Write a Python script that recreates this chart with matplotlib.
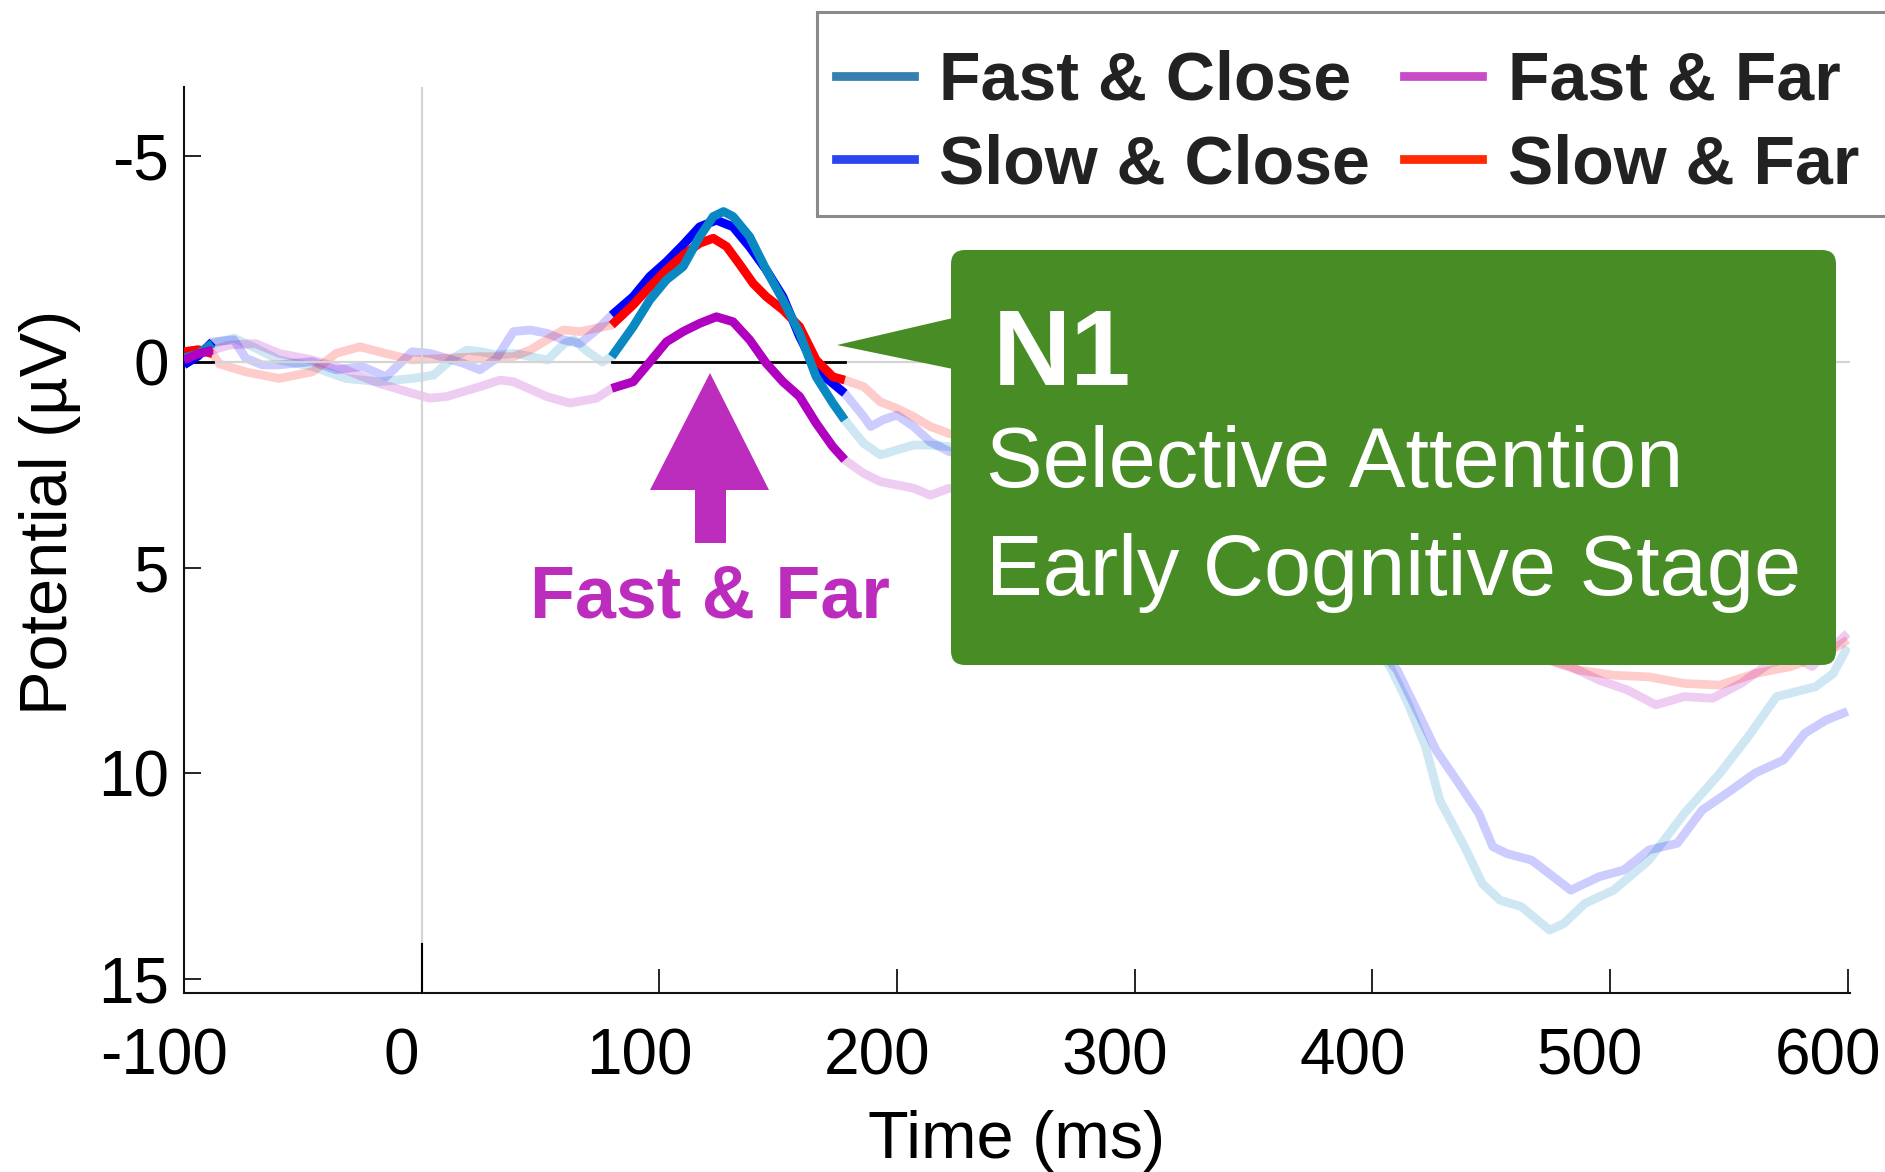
import numpy as np
import matplotlib
matplotlib.use("Agg")
import matplotlib.pyplot as plt
from matplotlib.lines import Line2D
from matplotlib.patches import FancyBboxPatch, Polygon, Rectangle
from matplotlib.transforms import IdentityTransform, ScaledTranslation

W, H, DPI = 1885, 1172, 100
plt.rcParams['font.family'] = ['Liberation Sans', 'DejaVu Sans']
plt.rcParams['axes.unicode_minus'] = False

# ---------------- data ----------------
labels = ["Fast & Close", "Slow & Close", "Fast & Far", "Slow & Far"]

fc_t = [-100, -94, -88, -79, -71, -60, -46, -32, -18, -4, 5, 13, 19, 25, 32, 39, 46, 53, 60, 64, 69, 76,
        80, 89, 96, 103, 110, 117, 122.7, 127, 131, 138, 145, 152, 159, 166, 173, 178,
        186, 193, 200, 207, 214, 222, 240, 260, 280, 300, 330, 360, 380, 400, 407.5, 415, 422.4, 428.4,
        438.8, 446.3, 453.7, 462.7, 474.6, 480.6, 489.5, 501.5, 516.4, 531.3, 546.2, 558.1, 570.1,
        586.5, 593.9, 600]
fc_v = [-0.1, -0.2, -0.45, -0.58, -0.37, -0.05, 0.11, 0.4, 0.48, 0.4, 0.32, -0.09, -0.29, -0.25, -0.17, -0.21,
        -0.13, -0.05, -0.45, -0.54, -0.29, 0.0,
        -0.13, -0.86, -1.51, -2.0, -2.32, -3.05, -3.54, -3.66, -3.54, -3.05, -2.24, -1.51, -0.7, 0.36, 1.0, 1.41,
        1.98, 2.26, 2.14, 2.02, 2.02, 2.06, 2.3, 2.1, 2.0, 2.6, 3.6, 4.8, 5.8, 6.9, 7.41, 8.3, 9.36, 10.66,
        11.79, 12.69, 13.09, 13.25, 13.82, 13.66, 13.17, 12.85, 12.12, 10.98, 10.01, 9.12, 8.14,
        7.9, 7.58, 6.93]

sc_t = [-100, -94, -88, -79, -74, -67, -60, -46, -36, -25, -15, -4, 3.5, 10.5, 17.5, 24.5, 31.5, 38.6, 45.6,
        52.6, 59.6, 66.6, 73.6,
        80, 89, 96, 103, 110, 117, 124, 131, 138, 145, 152, 159, 166, 173, 178,
        186, 189, 194, 200, 207, 214, 222, 240, 260, 280, 300, 330, 360, 380, 400, 410.4, 419.4, 426.8,
        437.3, 444.8, 450.7, 456.7, 467.1, 483.5, 495.5, 505.8, 516.4, 528.3, 538.8, 549.2, 561.1,
        573.1, 582, 591, 600]
sc_v = [0.07, -0.15, -0.49, -0.54, -0.09, 0.07, 0.07, -0.01, 0.19, 0.11, 0.36, -0.25, -0.21, -0.09, 0.03,
        0.19, -0.09, -0.74, -0.78, -0.7, -0.54, -0.45, -0.78,
        -1.14, -1.59, -2.08, -2.44, -2.85, -3.29, -3.45, -3.29, -2.8, -2.24, -1.59, -0.62, 0.19, 0.52, 0.76,
        1.33, 1.57, 1.41, 1.29, 1.57, 1.94, 2.18, 2.4, 2.2, 2.1, 2.6, 3.5, 4.5, 5.5, 6.8, 7.49, 8.55, 9.44,
        10.33, 10.98, 11.79, 11.96, 12.12, 12.85, 12.52, 12.36, 11.87, 11.71, 10.9, 10.49, 10.0,
        9.68, 9.03, 8.71, 8.5]

ff_t = [-100, -94, -88, -81, -70, -60, -46, -32, -18, -4, 3.5, 10.5, 24.5, 33, 38.6, 52.6, 62.4, 73.6,
        80, 89, 96, 103, 110, 117, 124, 131, 138, 145, 152, 159, 166, 173, 178,
        186, 193, 200, 207, 214, 222, 250, 280, 300, 350, 400, 450, 483.5, 495.5, 507.4, 519.3, 531.3,
        543.2, 555.1, 567.1, 577.5, 585, 593.9, 600]
ff_v = [-0.05, -0.2, -0.29, -0.41, -0.45, -0.21, -0.05, 0.19, 0.52, 0.76, 0.88, 0.84, 0.6, 0.44, 0.48, 0.84,
        1.0, 0.88,
        0.64, 0.48, 0.0, -0.49, -0.74, -0.94, -1.1, -0.98, -0.54, 0.03, 0.48, 0.84, 1.49, 2.06, 2.38,
        2.71, 2.91, 2.99, 3.07, 3.24, 3.07, 3.3, 3.6, 4.0, 5.0, 6.0, 6.8, 7.41, 7.74, 7.98, 8.34, 8.14,
        8.18, 7.82, 7.33, 7.17, 7.41, 6.93, 6.6]

sf_t = [-100, -94, -88, -85, -74, -60, -46, -36, -26, -18, -4, 10.5, 24.5, 38.6, 45.6, 59.6, 66.6,
        80, 89, 96, 103, 110, 117, 122.7, 128.3, 134, 139.5, 145, 152, 159, 166, 173, 178,
        186, 193, 200, 207, 214, 222, 250, 280, 300, 350, 400, 450, 486.5, 501.5, 516.4, 531.3, 546.2,
        561.1, 576, 591, 600]
sf_v = [-0.25, -0.3, -0.2, 0.05, 0.24, 0.4, 0.24, -0.21, -0.37, -0.25, -0.05, -0.09, -0.13, -0.13, -0.29,
        -0.78, -0.74,
        -0.9, -1.39, -1.83, -2.24, -2.6, -2.89, -3.01, -2.81, -2.36, -1.91, -1.59, -1.27, -0.86, -0.05, 0.36, 0.44,
        0.6, 0.97, 1.13, 1.33, 1.57, 1.74, 2.1, 2.6, 3.2, 4.5, 5.6, 6.8, 7.49, 7.62, 7.66, 7.82, 7.86,
        7.58, 7.41, 7.09, 6.76]

windows = [(-100, -88), (80, 178)]
xticks = [-100, 0, 100, 200, 300, 400, 500, 600]
xticklabels = ["-100", "0", "100", "200", "300", "400", "500", "600"]
yticks = [-5, 0, 5, 10, 15]
yticklabels = ["-5", "0", "5", "10", "15"]

line_colors = ["#0a88c2", "#0000ff", "#b000c0", "#ff0000"]
legend_colors = ["#3580b0", "#2b46f0", "#c84bc8", "#ff2a00"]
draw_order = [1, 3, 0, 2]

series = [(fc_t, fc_v), (sc_t, sc_v), (ff_t, ff_v), (sf_t, sf_v)]

# ---------------- figure ----------------
fig = plt.figure(figsize=(W / DPI, H / DPI), dpi=DPI)
ax_l, ax_r, ax_t, ax_b = 184, 1850, 87, 993
ax = fig.add_axes([ax_l / W, 1 - ax_b / H, (ax_r - ax_l) / W, (ax_b - ax_t) / H])

ax.axhline(0, color="#d4d4d4", lw=1.6, zorder=3)
ax.axvline(0, color="#d4d4d4", lw=1.6, zorder=3)

LW = 6.3
for i, (t, v) in enumerate(series):
    ax.plot(t, v, color=line_colors[i], alpha=0.2, lw=LW, solid_capstyle="butt", zorder=2)

for i in draw_order:
    t = np.array(series[i][0], dtype=float)
    v = np.array(series[i][1], dtype=float)
    for a, b in windows:
        m = (t >= a) & (t <= b)
        ax.plot(t[m], v[m], color=line_colors[i], lw=LW, solid_capstyle="butt", zorder=5)

for a, b in windows:
    ax.plot([a, b], [0, 0], color="black", lw=2, zorder=4)

ax.set_xlim(-100, 601)
ax.set_ylim(15.35, -6.69)
for s in ["top", "right"]:
    ax.spines[s].set_visible(False)
for s in ["left", "bottom"]:
    ax.spines[s].set_linewidth(1.5)
    ax.spines[s].set_color("#111111")

ax.axvline(0, ymin=0, ymax=49 / 906, color="black", lw=1.5, zorder=4)

ax.set_xticks(xticks)
ax.set_xticklabels(xticklabels)
ax.set_yticks(yticks)
ax.set_yticklabels(yticklabels)
ax.tick_params(axis="x", direction="in", length=17, width=1.2, pad=25, labelsize=46)
ax.tick_params(axis="y", direction="in", length=12, width=1.2, pad=11, labelsize=46)
for lab in ax.get_xticklabels():
    lab.set_transform(lab.get_transform() + ScaledTranslation(-0.20, 0, fig.dpi_scale_trans))

ax.set_xlabel("Time (ms)", fontsize=48)
ax.xaxis.set_label_coords(0.5, -0.129)
ax.set_ylabel("Potential (µV)", fontsize=48)
ax.yaxis.set_label_coords(-0.062, 0.53)

# ---------------- legend ----------------
frame = Rectangle((817, H - 216), 1200, 216 - 12, transform=IdentityTransform(),
                  facecolor="white", edgecolor="#8a8a8a", linewidth=2.2, zorder=19)
fig.add_artist(frame)
handles = [Line2D([], [], color=c, lw=LW) for c in legend_colors]
leg = fig.legend(handles, labels, ncol=2, loc="upper left",
                 bbox_to_anchor=(836 / W, 1 - 50 / H), bbox_transform=fig.transFigure,
                 borderaxespad=0, prop={"weight": "bold", "size": 49},
                 handlelength=1.14, handletextpad=0.38, columnspacing=0.5,
                 labelspacing=0.28, borderpad=0, frameon=False)
for txt in leg.get_texts():
    txt.set_color("#222222")
leg.set_zorder(20)

# ---------------- annotations (figure pixel coords) ----------------
def P(x, y):
    return (x, H - y)

green = "#478c24"
box = FancyBboxPatch(P(951, 665), 1836 - 951, 665 - 250,
                     boxstyle="round,pad=0,rounding_size=14",
                     transform=IdentityTransform(), facecolor=green, edgecolor="none", zorder=30)
fig.add_artist(box)
tri = Polygon([P(837, 345), P(953, 318), P(953, 369)], closed=True,
              transform=IdentityTransform(), facecolor=green, edgecolor="none", zorder=30)
fig.add_artist(tri)

fig.text(993 / W, 1 - 385 / H, "N1", color="white", fontsize=78, fontweight="bold",
         va="baseline", ha="left", zorder=31)
fig.text(986 / W, 1 - 487 / H, "Selective Attention", color="white", fontsize=61,
         va="baseline", ha="left", zorder=31)
fig.text(986 / W, 1 - 595 / H, "Early Cognitive Stage", color="white", fontsize=61,
         va="baseline", ha="left", zorder=31)

purple = "#bd2dbd"
arrow = Polygon([P(710, 373), P(769, 490), P(726, 490), P(726, 543), P(695, 543), P(695, 490), P(650, 490)],
                closed=True, transform=IdentityTransform(), facecolor=purple, edgecolor="none", zorder=30)
fig.add_artist(arrow)
fig.text(710 / W, 1 - 617 / H, "Fast & Far", color=purple, fontsize=53, fontweight="bold",
         va="baseline", ha="center", zorder=31)

fig.savefig("out.png", dpi=DPI)
